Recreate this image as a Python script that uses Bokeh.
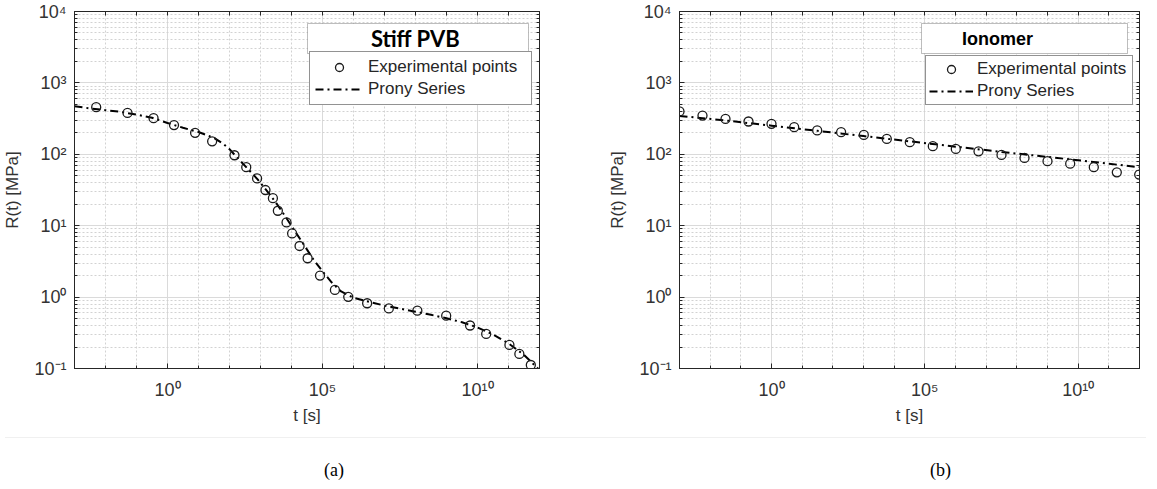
from bokeh.plotting import figure
from bokeh.models import (FixedTicker, LogAxis, Legend, LegendItem, BoxAnnotation,
                          Label, Range1d, Div)
from bokeh.layouts import row, column
from bokeh.embed import file_html
from bokeh.resources import INLINE

# ---------------- data (log10 of time [s], relaxation modulus [MPa]) ----------------
pvb_exp_logt = [-2.30, -1.29, -0.45, 0.21, 0.89, 1.44, 2.16, 2.54, 2.89, 3.16, 3.40,
                3.56, 3.84, 4.02, 4.26, 4.52, 4.92, 5.40, 5.83, 6.44, 7.14, 8.06,
                8.99, 9.76, 10.28, 11.03, 11.35, 11.72]
pvb_exp_R = [457, 380, 321, 257, 200, 152, 97, 66, 46, 31.6, 24.3,
             16.2, 11.1, 7.8, 5.2, 3.5, 2.0, 1.26, 1.01, 0.82, 0.695, 0.645,
             0.55, 0.40, 0.305, 0.214, 0.16, 0.112]

pvb_prony_logt = [-3.0, -2.5, -2.0, -1.5, -1.0, -0.5, 0.0, 0.5, 1.0, 1.5, 1.8, 2.0,
                  2.3, 2.6, 2.9, 3.2, 3.5, 3.8, 4.1, 4.4, 4.7, 5.0, 5.3, 5.6, 6.0,
                  6.5, 7.0, 7.5, 8.0, 8.5, 9.0, 9.5, 10.0, 10.5, 11.0, 11.5, 12.0]
pvb_prony_R = [470, 440, 415, 392, 360, 325, 275, 235, 205, 170, 140, 118,
               85, 62, 45, 31, 21, 13.5, 8.5, 5.4, 3.4, 2.3, 1.6, 1.2, 0.98,
               0.86, 0.76, 0.69, 0.625, 0.565, 0.505, 0.445, 0.375, 0.30, 0.225, 0.155, 0.095]

ion_exp_logt = [-3.0, -2.25, -1.50, -0.75, 0.0, 0.74, 1.49, 2.27, 3.01, 3.76, 4.51,
                5.26, 6.01, 6.75, 7.50, 8.25, 9.00, 9.74, 10.51, 11.26, 11.99]
ion_exp_R = [398, 349, 313, 288, 267, 240, 216, 204, 187, 164, 148,
             130, 119, 110, 98, 89, 80, 74, 66, 56, 52]

ion_prony_logt = [-3.0, -1.5, 0.0, 1.5, 3.0, 4.5, 6.0, 7.5, 9.0, 10.5, 12.0]
ion_prony_R = [345, 298, 252, 213, 180, 152, 128, 108, 92, 78, 66]

captions = ["(a)", "(b)"]

x_major = [1e0, 1e5, 1e10]
x_minor = [10.0 ** k for k in range(-3, 13)]
y_major = [10.0 ** k for k in range(-1, 5)]
y_minor = [m * 10.0 ** k for k in range(-1, 4) for m in range(2, 10)]
x_labels = {1e0: "10\u2070", 1e5: "10\u2075", 1e10: "10\u00b9\u2070"}
y_labels = {1e-1: "10\u207b\u00b9", 1e0: "10\u2070", 1e1: "10\u00b9",
            1e2: "10\u00b2", 1e3: "10\u00b3", 1e4: "10\u2074"}

AX = "#262626"
FONT = "Liberation Sans"


def style_axis(ax, xdir, show_labels=True):
    ax.axis_line_color = AX
    ax.major_tick_line_color = AX
    ax.minor_tick_line_color = AX
    ax.major_tick_in = 5
    ax.major_tick_out = 0
    ax.minor_tick_in = 3
    ax.minor_tick_out = 0
    ax.major_label_text_font = FONT
    ax.major_label_text_color = "#333333"
    ax.major_label_text_font_size = "18px"
    if show_labels:
        if xdir:
            ax.ticker = FixedTicker(ticks=x_major, minor_ticks=x_minor)
            ax.major_label_overrides = x_labels
        else:
            ax.ticker = FixedTicker(ticks=y_major, minor_ticks=y_minor)
            ax.major_label_overrides = y_labels
    else:
        # mirror axis: ticks only, no labels
        ax.major_label_standoff = 0
        ax.minor_tick_in = 4 if xdir else 3
        if xdir:
            ax.ticker = FixedTicker(ticks=[], minor_ticks=x_minor)
        else:
            ax.ticker = FixedTicker(ticks=[], minor_ticks=y_major + y_minor)


def make_panel(exp_logt, exp_R, pr_logt, pr_R, title, title_font, title_size,
               width, mb_left, mb_right, leg_loc, pad, gw, ls, lw,
               box_lr, title_x):
    p = figure(width=width, height=432, x_axis_type="log", y_axis_type="log",
               x_range=Range1d(1e-3, 1e12), y_range=Range1d(1e-1, 1e4),
               output_backend="svg", toolbar_location=None,
               min_border_left=mb_left, min_border_right=mb_right,
               min_border_top=11, min_border_bottom=64)
    p.outline_line_color = AX
    p.outline_line_width = 1
    p.background_fill_color = "white"
    p.border_fill_color = "white"

    style_axis(p.xaxis[0], True)
    style_axis(p.yaxis[0], False)
    p.xaxis.major_label_standoff = 11
    p.yaxis.major_label_standoff = 8
    p.xaxis.axis_label = "t [s]"
    p.yaxis.axis_label = "R(t) [MPa]"
    for ax in (p.xaxis[0], p.yaxis[0]):
        ax.axis_label_text_font = FONT
        ax.axis_label_text_font_size = "17px"
        ax.axis_label_text_font_style = "normal"
        ax.axis_label_text_color = "#333333"
    p.xaxis.axis_label_standoff = 3
    p.yaxis.axis_label_standoff = 9

    top = LogAxis()
    style_axis(top, True, show_labels=False)
    p.add_layout(top, "above")
    right = LogAxis()
    style_axis(right, False, show_labels=False)
    p.add_layout(right, "right")

    for g in (p.xgrid[0], p.ygrid[0]):
        g.grid_line_color = "#dadada"
        g.grid_line_width = 1
        g.minor_grid_line_color = "#d2d2d2"
        g.minor_grid_line_dash = "2 2"
        g.minor_grid_line_width = 1
    p.xgrid[0].ticker = FixedTicker(ticks=x_major, minor_ticks=x_minor)
    p.ygrid[0].ticker = FixedTicker(ticks=y_major, minor_ticks=y_minor)

    exp_t = [10.0 ** v for v in exp_logt]
    pr_t = [10.0 ** v for v in pr_logt]
    ln = p.line(pr_t, pr_R, line_color="black", line_width=2, line_dash="8 4 2 4")
    sc = p.scatter(exp_t, exp_R, marker="circle", size=9, fill_color=None,
                   line_color="#1a1a1a", line_width=1.3)

    leg = Legend(items=[LegendItem(label="Experimental points", renderers=[sc]),
                        LegendItem(label="Prony Series", renderers=[ln])],
                 location=leg_loc, padding=pad, spacing=2, margin=0,
                 glyph_width=gw, glyph_height=20, label_height=20,
                 label_standoff=ls, label_width=lw,
                 label_text_font=FONT, label_text_font_size="17px",
                 label_text_color="#262626",
                 border_line_color=AX, border_line_width=1,
                 background_fill_color="white", background_fill_alpha=1)
    p.add_layout(leg, "center")

    p.add_layout(BoxAnnotation(left=box_lr[0], right=box_lr[1], top=23, bottom=53,
                               left_units="canvas", right_units="canvas",
                               top_units="canvas", bottom_units="canvas",
                               fill_color="white", fill_alpha=1,
                               line_color=AX, line_width=1))
    p.add_layout(Label(x=title_x, y=38, x_units="canvas", y_units="canvas",
                       text=title, text_font=title_font, text_font_size=title_size,
                       text_font_style="bold", text_color="black",
                       text_align="center", text_baseline="middle"))
    return p


p1 = make_panel(pvb_exp_logt, pvb_exp_R, pvb_prony_logt, pvb_prony_R,
                "Stiff PVB", "Lato", "22px", 605, 72, 66,
                (235, 263), 5, 48, 5, 158, (307, 528), 415)
p2 = make_panel(ion_exp_logt, ion_exp_R, ion_prony_logt, ion_prony_R,
                "Ionomer", "Liberation Sans", "18px", 536, 70, 2,
                (246, 263), 3, 44, 4, 152, (316, 522), 392)

span_style = ("position:absolute;top:23px;font-family:'Liberation Serif';"
              "font-size:18px;line-height:18px;color:black;")
cap_html = ('<div style="position:relative;width:1141px;height:41px;'
            'border-top:1px solid #f0f0f0;">'
            '<span style="%sleft:319px;">%s</span>'
            '<span style="%sleft:925px;">%s</span></div>'
            % (span_style, captions[0], span_style, captions[1]))
cap_div = Div(text=cap_html, width=1141, height=41)

layout = column(row(p1, p2), cap_div)
open("out.html", "w").write(file_html(layout, INLINE))
